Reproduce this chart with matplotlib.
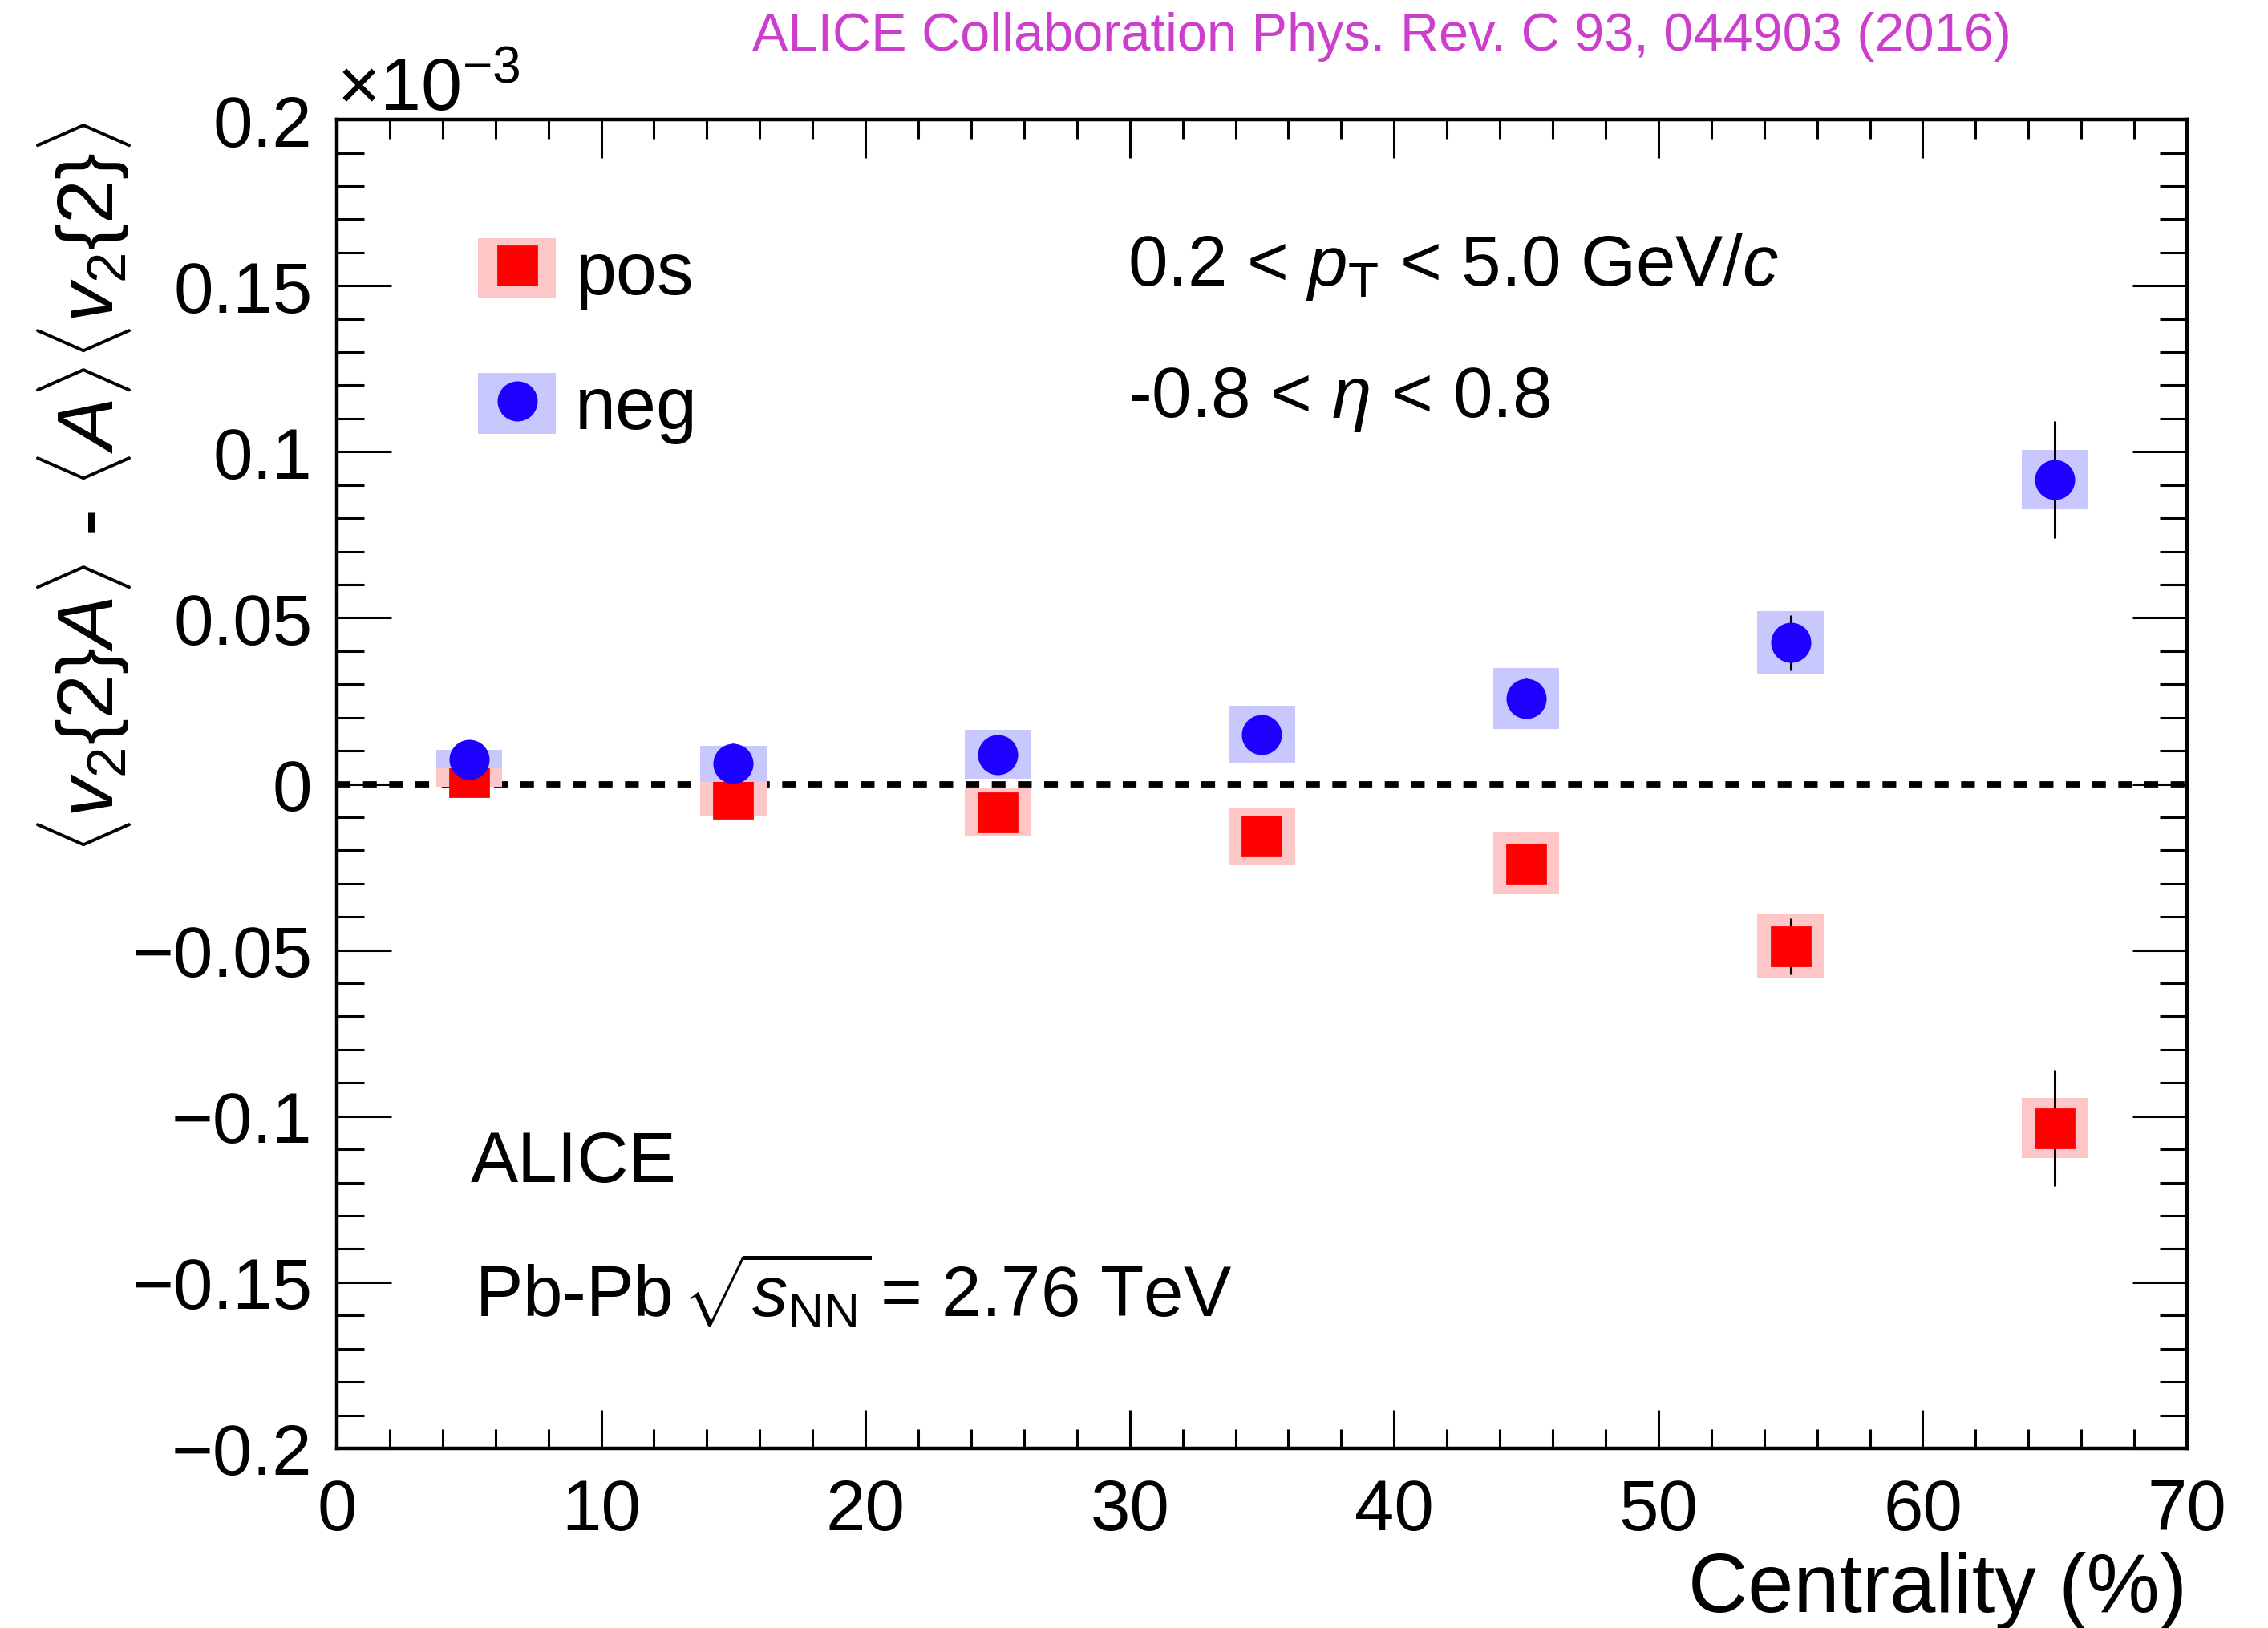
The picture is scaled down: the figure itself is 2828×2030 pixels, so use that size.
import numpy as np
import matplotlib
matplotlib.use("Agg")
import matplotlib.pyplot as plt
from matplotlib.lines import Line2D
from matplotlib.patches import Rectangle
from matplotlib.legend_handler import HandlerTuple
from matplotlib.ticker import MultipleLocator, FuncFormatter

plt.rcParams['font.family'] = ['Liberation Sans', 'DejaVu Sans']
plt.rcParams['mathtext.fontset'] = 'custom'
plt.rcParams['mathtext.rm'] = 'Liberation Sans'
plt.rcParams['mathtext.it'] = 'Liberation Sans:italic'
plt.rcParams['mathtext.bf'] = 'Liberation Sans:bold'

# data, in units of 10^-3
centrality = [5, 15, 25, 35, 45, 55, 65]
pos_val = [0.0020, -0.0045, -0.0086, -0.0156, -0.0239, -0.0489, -0.1036]
pos_stat = [0.0020, 0.0030, 0.0040, 0.0050, 0.0060, 0.0084, 0.0175]
pos_sys = [0.0028, 0.0050, 0.0072, 0.0086, 0.0093, 0.0096, 0.0090]
neg_val = [0.0074, 0.0061, 0.0089, 0.0149, 0.0258, 0.0425, 0.0916]
neg_stat = [0.0020, 0.0060, 0.0040, 0.0050, 0.0060, 0.0084, 0.0177]
neg_sys = [0.0028, 0.0054, 0.0073, 0.0086, 0.0092, 0.0096, 0.0089]
box_width = 2.5

red, pink = '#FF0000', '#FFC6C8'
blue, lblue = '#1E00FF', '#C8C8FF'

fig = plt.figure(figsize=(14.14, 10.155), dpi=200)
ax = fig.add_axes([0.1485, 0.1103, 0.8158, 0.8158])

x = np.array(centrality)

def draw(vals, stat, sys, col, bcol, mk, z):
    vals, sys = np.array(vals), np.array(sys)
    ax.bar(x, 2 * sys, width=box_width, bottom=vals - sys, color=bcol,
           linewidth=0, zorder=z)
    ax.errorbar(x, vals, yerr=stat, fmt='none', ecolor='k', elinewidth=1.1,
                capsize=0, zorder=z + 1)
    ax.plot(x, vals, ls='none', marker=mk, ms=17, color=col, mec=col,
            zorder=z + 2)

ax.axhline(0, color='k', lw=2.8, dashes=(2.2, 2.0), zorder=2)
draw(pos_val, pos_stat, pos_sys, red, pink, 's', 3)
draw(neg_val, neg_stat, neg_sys, blue, lblue, 'o', 6)

ax.set_xlim(0, 70)
ax.set_ylim(-0.2, 0.2)
ax.xaxis.set_major_locator(MultipleLocator(10))
ax.xaxis.set_minor_locator(MultipleLocator(2))
ax.yaxis.set_major_locator(MultipleLocator(0.05))
ax.yaxis.set_minor_locator(MultipleLocator(0.01))
ax.yaxis.set_major_formatter(FuncFormatter(
    lambda v, p: ('%g' % round(v, 3)).replace('-', '\u2212') if abs(v) > 1e-9 else '0'))

ax.tick_params(which='both', direction='in', top=True, right=True, width=1.1,
               labelsize=32)
ax.tick_params(axis='x', which='major', length=17.3, pad=13)
ax.tick_params(axis='x', which='minor', length=8.6)
ax.tick_params(axis='y', which='major', length=24.5, pad=11)
ax.tick_params(axis='y', which='minor', length=12.2)
for s in ax.spines.values():
    s.set_linewidth(1.6)

fig.text(0.9643, 0.0105, 'Centrality (%)', ha='right', va='baseline', fontsize=37)
fig.text(0.037, 0.925,
         r'$\langle v_{2}\{2\}A\rangle$ - $\langle A\rangle\langle v_{2}\{2\}\rangle$',
         rotation=90, ha='center', va='top', fontsize=35.5)
fig.text(0.1485, 0.932, r'$\times$10$^{-3}$', ha='left', va='baseline', fontsize=33)
fig.text(0.3317, 0.969, 'ALICE Collaboration Phys. Rev. C 93, 044903 (2016)',
         ha='left', va='baseline', fontsize=24, color='#CC3FCC')

# annotations
ax.text(0.4275, 0.8757, r'0.2 < $p_{\rm T}$ < 5.0 GeV/$c$', transform=ax.transAxes,
        fontsize=32, va='baseline')
ax.text(0.4275, 0.7767, r'-0.8 < $\eta$ < 0.8', transform=ax.transAxes,
        fontsize=32, va='baseline')
ax.text(0.0724, 0.2009, 'ALICE', transform=ax.transAxes, fontsize=32, va='baseline')
ax.text(0.0746, 0.0997, r'Pb-Pb$\,\sqrt{s_{\rm NN}}\!$ = 2.76 TeV', transform=ax.transAxes,
        fontsize=32, va='baseline')

# legend
h_pos = (Rectangle((0, 0), 1, 1, color=pink, lw=0),
         Line2D([], [], ls='none', marker='s', ms=17, color=red))
h_neg = (Rectangle((0, 0), 1, 1, color=lblue, lw=0),
         Line2D([], [], ls='none', marker='o', ms=17, color=blue))
ax.legend([h_pos, h_neg], ['pos', 'neg'], handler_map={tuple: HandlerTuple(ndivide=1)},
          loc='upper left', bbox_to_anchor=(0.0763, 0.911), frameon=False,
          fontsize=33, handlelength=1.06, handleheight=0.894, handletextpad=0.26,
          labelspacing=0.87, borderpad=0, borderaxespad=0)

fig.savefig('out.png', dpi=200)
